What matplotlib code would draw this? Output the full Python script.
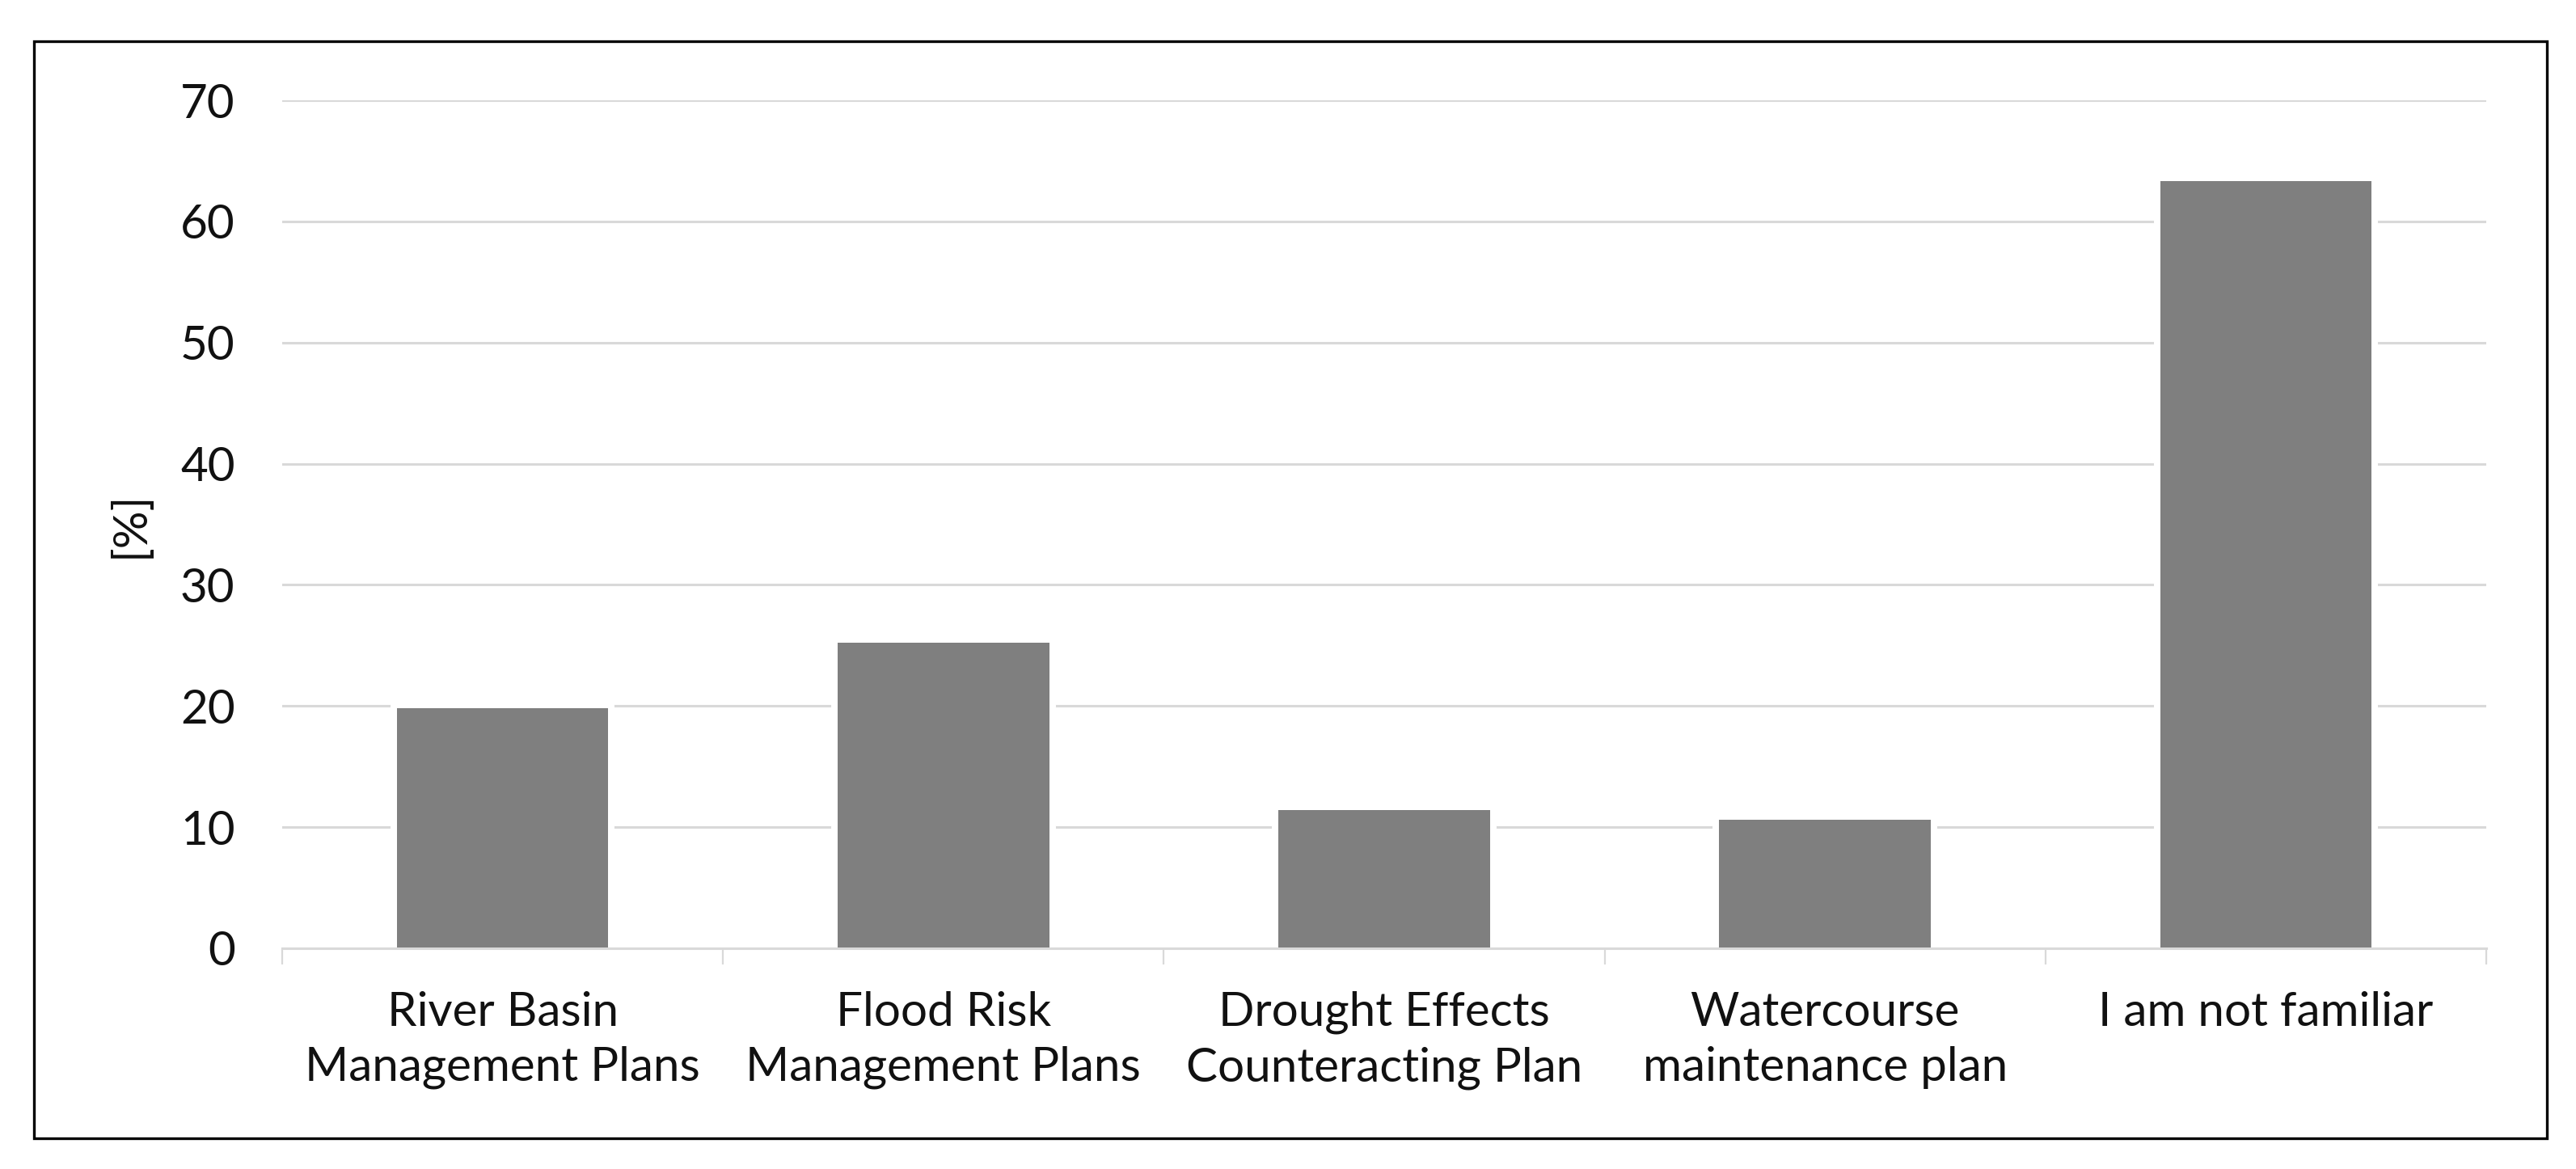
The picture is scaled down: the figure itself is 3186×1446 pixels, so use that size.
import matplotlib
matplotlib.use("Agg")
import matplotlib.pyplot as plt
from matplotlib.patches import Rectangle
import numpy as np

categories = ["River Basin\nManagement Plans", "Flood Risk\nManagement Plans",
              "Drought Effects\nCounteracting Plan", "Watercourse\nmaintenance plan",
              "I am not familiar"]
values = [19.8, 25.2, 11.4, 10.6, 63.3]
yticks = [0, 10, 20, 30, 40, 50, 60, 70]

plt.rcParams['font.family'] = ['Lato', 'DejaVu Sans']

W, H = 3186, 1446
fig = plt.figure(figsize=(W / 100, H / 100), dpi=100)
fig.patch.set_facecolor('white')

# outer black frame
fig.patches.append(Rectangle((42 / W, 1 - 1408 / H), (3150 - 42) / W, (1408 - 51) / H,
                             transform=fig.transFigure, fill=False,
                             edgecolor='black', linewidth=2.4, zorder=0))

ax = fig.add_axes([349 / W, 1 - 1173 / H, (3075 - 349) / W, (1173 - 124) / H])
ax.set_axisbelow(True)

x = np.arange(len(categories))
# white halo behind the bars so the gridlines stop short of them
ax.bar(x, values, width=0.48, color='white', edgecolor='white', linewidth=11.5)
ax.bar(x, values, width=0.48, color='#7f7f7f', linewidth=0)

ax.set_xlim(-0.5, len(categories) - 0.5)
ax.set_ylim(0, 70)
ax.set_yticks(yticks)
ax.yaxis.grid(True, color='#d9d9d9', linewidth=2.2)
ax.tick_params(axis='y', length=0, pad=42, labelsize=42, labelcolor='#111111')

ax.set_xticks(x)
ax.set_xticklabels(categories, fontsize=42, color='#111111', linespacing=1.35)
ax.tick_params(axis='x', which='major', length=0, pad=38)
ax.set_xticks(np.arange(-0.5, len(categories)), minor=True)
ax.tick_params(axis='x', which='minor', length=14.4, width=1.6, color='#d9d9d9')

for s in ['top', 'right', 'left']:
    ax.spines[s].set_visible(False)
ax.spines['bottom'].set_color('#d9d9d9')
ax.spines['bottom'].set_linewidth(2.2)

ax.set_ylabel('[%]', fontsize=42, color='#111111')
ax.yaxis.set_label_coords((188 - 349) / (3075 - 349), 0.5)

fig.savefig('out.png', dpi=100)
